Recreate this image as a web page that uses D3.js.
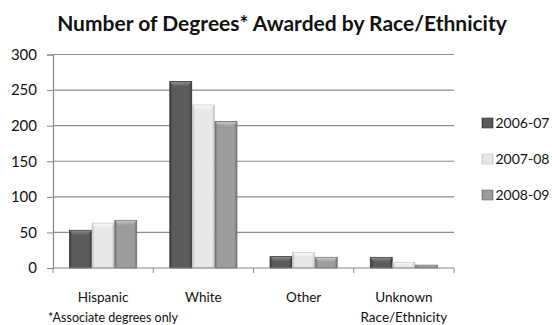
<!DOCTYPE html>
<html>
<head>
<meta charset="utf-8">
<script src="https://cdn.jsdelivr.net/npm/d3@7"></script>
<style>
  html, body { margin: 0; padding: 0; background: #fff; }
  svg { display: block; font-family: Lato, "Open Sans", sans-serif; }
</style>
</head>
<body>
<svg id="chart" width="552" height="325"></svg>
<script>
// Degrees awarded, by race/ethnicity and academic year
const categories = ["Hispanic", "White", "Other", "Unknown\nRace/Ethnicity"];
const years = ["2006-07", "2007-08", "2008-09"];
const values2006 = [53, 262, 16, 15];
const values2007 = [63, 229, 22, 8];
const values2008 = [67, 206, 15, 4];
const yTicks = [0, 50, 100, 150, 200, 250, 300];

const seriesValues = [values2006, values2007, values2008];
// body, edge and bevel-highlight shades for each year
const seriesColors = [
  { edge: "#383838", body: "#5b5b5b", hi: "#8a8a8a" },
  { edge: "#c4c4c4", body: "#e8e8e8", hi: "#fafafa" },
  { edge: "#707070", body: "#9c9c9c", hi: "#c4c4c4" }
];

const svg = d3.select("#chart");
const plot = { left: 53, right: 454, top: 54.5, bottom: 268 };

const x = d3.scaleBand()
  .domain(categories)
  .range([plot.left, plot.right])
  .paddingInner(0.33)
  .paddingOuter(0.165);
const xs = d3.scaleBand()
  .domain(years)
  .range([0, x.bandwidth()])
  .paddingInner(0.03);
const y = d3.scaleLinear().domain([0, 300]).range([plot.bottom, plot.top]);

// gradients: horizontal shading across each bar, vertical on the bevel
const defs = svg.append("defs");
seriesColors.forEach((c, i) => {
  const g = defs.append("linearGradient").attr("id", "bar" + i)
    .attr("x1", 0).attr("x2", 1).attr("y1", 0).attr("y2", 0);
  g.append("stop").attr("offset", "0%").attr("stop-color", c.edge);
  g.append("stop").attr("offset", "12%").attr("stop-color", c.body);
  g.append("stop").attr("offset", "88%").attr("stop-color", c.body);
  g.append("stop").attr("offset", "100%").attr("stop-color", c.edge);
  const t = defs.append("linearGradient").attr("id", "top" + i)
    .attr("x1", 0).attr("x2", 0).attr("y1", 0).attr("y2", 1);
  t.append("stop").attr("offset", "0%").attr("stop-color", c.hi);
  t.append("stop").attr("offset", "100%").attr("stop-color", c.body);
});

// title
svg.append("text")
  .attr("x", 282).attr("y", 31)
  .attr("text-anchor", "middle")
  .attr("font-size", 21).attr("font-weight", "bold")
  .attr("fill", "#111")
  .text("Number of Degrees* Awarded by Race/Ethnicity");

// y axis with outward ticks
const yAxis = d3.axisLeft(y).tickValues(yTicks).tickSize(6).tickPadding(10).tickFormat(d3.format("d"));
const yg = svg.append("g").attr("transform", `translate(${plot.left},0)`).call(yAxis);
yg.select(".domain").attr("stroke", "#888").attr("stroke-width", 1.2);
yg.selectAll(".tick line").attr("stroke", "#888");
yg.selectAll(".tick text").attr("font-size", 15).attr("fill", "#111").attr("font-family", "Lato, sans-serif");

// horizontal gridlines
svg.append("g").selectAll("line")
  .data(yTicks.filter(d => d > 0))
  .join("line")
  .attr("x1", plot.left).attr("x2", plot.right)
  .attr("y1", d => y(d)).attr("y2", d => y(d))
  .attr("stroke", "#8c8c8c").attr("stroke-width", 1.2);

// bars
const groups = svg.append("g").selectAll("g")
  .data(categories)
  .join("g")
  .attr("transform", d => `translate(${x(d)},0)`);

groups.each(function (cat, ci) {
  const g = d3.select(this);
  years.forEach((yr, si) => {
    const v = seriesValues[si][ci];
    const bx = xs(yr), bw = xs.bandwidth();
    const top = y(v), h = y(0) - y(v);
    g.append("rect")
      .attr("x", bx).attr("y", top).attr("width", bw).attr("height", h)
      .attr("fill", `url(#bar${si})`)
      .attr("stroke", seriesColors[si].edge).attr("stroke-width", 0.8);
    // bevelled top
    const bev = Math.min(5, h * 0.45);
    const inset = Math.min(4, bw * 0.18);
    g.append("path")
      .attr("d", `M${bx + 0.5},${top + 0.5} L${bx + bw - 0.5},${top + 0.5} L${bx + bw - inset},${top + bev} L${bx + inset},${top + bev} Z`)
      .attr("fill", `url(#top${si})`);
  });
});

// x axis line with category boundary ticks
const xAxisLine = svg.append("g");
xAxisLine.append("line")
  .attr("x1", plot.left).attr("x2", plot.right)
  .attr("y1", y(0)).attr("y2", y(0))
  .attr("stroke", "#888").attr("stroke-width", 1.2);
const step = x.step();
const boundaries = [x(categories[0]) - x.paddingOuter() * step]
  .concat(categories.map(c => x(c) + x.bandwidth() + x.paddingInner() * step / 2));
boundaries[boundaries.length - 1] = plot.right;
xAxisLine.selectAll(".xt").data(boundaries).join("line")
  .attr("x1", d => d).attr("x2", d => d)
  .attr("y1", y(0)).attr("y2", y(0) + 5)
  .attr("stroke", "#888");

// category labels
svg.append("g").selectAll("text")
  .data(categories)
  .join("text")
  .attr("text-anchor", "middle")
  .attr("font-size", 13.5).attr("fill", "#111")
  .attr("transform", d => `translate(${x(d) + x.bandwidth() / 2},302)`)
  .each(function (d) {
    const t = d3.select(this);
    d.split("\n").forEach((line, i) => {
      t.append("tspan").attr("x", 0).attr("dy", i === 0 ? 0 : 19.5).text(line);
    });
  });

// footnote
svg.append("text")
  .attr("x", 48).attr("y", 322)
  .attr("font-size", 12.5).attr("fill", "#111")
  .text("*Associate degrees only");

// legend
const legend = svg.append("g").selectAll("g")
  .data(years)
  .join("g")
  .attr("transform", (d, i) => `translate(482,${118 + i * 36})`);
legend.append("rect")
  .attr("width", 11).attr("height", 10)
  .attr("fill", (d, i) => `url(#bar${i})`)
  .attr("stroke", (d, i) => seriesColors[i].edge).attr("stroke-width", 0.6);
legend.append("text")
  .attr("x", 13.5).attr("y", 10)
  .attr("font-size", 14).attr("fill", "#111")
  .text(d => d);
</script>
</body>
</html>
